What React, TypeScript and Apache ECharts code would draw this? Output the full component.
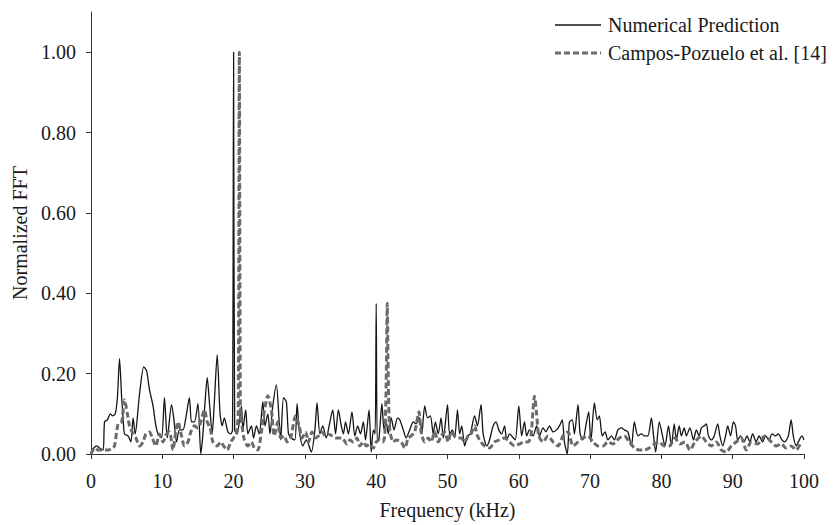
import React, { useEffect, useRef } from "react";
import * as echarts from "echarts";

const numFreq = [0, 0.4, 0.8, 1.2, 1.7, 1.9, 2.3, 2.7, 3.0, 3.4, 3.7, 4.0, 4.3, 4.5, 4.7, 5.2, 5.6, 5.9, 6.2, 6.8, 7.4, 7.8, 8.2, 8.7, 9.1, 9.4, 9.9, 10.3, 10.7, 11.3, 11.6, 12.0, 12.4, 12.9, 13.3, 13.8, 14.1, 14.5, 15.0, 15.4, 15.7, 16.0, 16.3, 16.6, 17.0, 17.3, 17.7, 18.1, 18.4, 18.7, 19.2, 19.6, 19.85, 20.0, 20.15, 20.5, 21.1, 21.3, 21.7, 22.0, 22.5, 22.8, 23.2, 23.6, 24.1, 24.4, 24.8, 25.1, 25.5, 26.0, 26.4, 26.6, 27.0, 27.4, 27.7, 28.1, 28.6, 28.9, 29.2, 29.7, 30.2, 30.9, 31.4, 31.7, 32.1, 32.5, 33.0, 33.4, 33.9, 34.3, 34.7, 35.1, 35.4, 35.7, 36.1, 36.6, 37.0, 37.4, 37.8, 38.2, 38.5, 39.0, 39.3, 39.6, 39.85, 40.0, 40.15, 40.4, 40.8, 41.1, 41.4, 41.7, 42.1, 42.5, 43.0, 43.3, 43.8, 44.2, 44.7, 45.2, 45.6, 46.1, 46.4, 46.8, 47.2, 47.6, 48.0, 48.3, 48.7, 49.1, 49.4, 49.6, 50.0, 50.3, 50.7, 51.0, 51.4, 51.7, 52.0, 52.4, 52.8, 53.2, 53.8, 54.2, 54.7, 55.0, 55.5, 55.9, 56.4, 56.8, 57.2, 57.6, 58.0, 58.3, 58.7, 59.0, 59.5, 60.0, 60.4, 60.8, 61.1, 61.5, 62.0, 62.5, 62.9, 63.4, 63.8, 64.3, 64.8, 65.3, 65.7, 66.1, 66.4, 66.8, 67.1, 67.5, 67.8, 68.3, 68.6, 69.0, 69.4, 69.8, 70.1, 70.6, 71.0, 71.3, 71.7, 72.1, 72.5, 73.0, 73.4, 73.9, 74.4, 74.8, 75.3, 75.8, 76.2, 76.7, 77.2, 77.6, 78.1, 78.6, 78.9, 79.2, 79.7, 80.1, 80.5, 81.0, 81.4, 81.8, 82.1, 82.5, 82.8, 83.2, 83.5, 84.0, 84.5, 84.9, 85.3, 85.6, 86.0, 86.3, 86.6, 87.0, 87.4, 87.9, 88.2, 88.6, 89.0, 89.3, 89.7, 90.1, 90.4, 90.7, 91.1, 91.6, 92.0, 92.4, 92.8, 93.3, 93.7, 94.2, 94.6, 95.1, 95.5, 96.0, 96.4, 96.9, 97.3, 97.8, 98.2, 98.5, 98.9, 99.2, 99.7, 100];
const numValue = [0.005, 0.015, 0.02, 0.015, 0.01, 0.08, 0.085, 0.10, 0.095, 0.10, 0.14, 0.237, 0.14, 0.09, 0.05, 0.045, 0.03, 0.09, 0.05, 0.148, 0.217, 0.207, 0.16, 0.12, 0.07, 0.05, 0.04, 0.14, 0.04, 0.123, 0.09, 0.03, 0.06, 0.06, 0.09, 0.14, 0.08, 0.08, 0.125, 0.0, 0.05, 0.13, 0.19, 0.13, 0.05, 0.13, 0.247, 0.10, 0.07, 0.09, 0.055, 0.05, 0.06, 1.0, 0.06, 0.05, 0.12, 0.06, 0.11, 0.05, 0.07, 0.04, 0.07, 0.05, 0.13, 0.07, 0.10, 0.05, 0.12, 0.172, 0.08, 0.035, 0.14, 0.13, 0.05, 0.04, 0.035, 0.125, 0.06, 0.02, 0.035, 0.005, 0.06, 0.127, 0.05, 0.07, 0.04, 0.07, 0.11, 0.05, 0.11, 0.07, 0.05, 0.08, 0.05, 0.105, 0.045, 0.07, 0.05, 0.08, 0.035, 0.11, 0.005, 0.06, 0.05, 0.375, 0.03, 0.04, 0.125, 0.06, 0.08, 0.05, 0.09, 0.06, 0.09, 0.085, 0.06, 0.04, 0.06, 0.08, 0.075, 0.09, 0.05, 0.12, 0.09, 0.095, 0.05, 0.08, 0.05, 0.09, 0.04, 0.06, 0.123, 0.05, 0.06, 0.04, 0.11, 0.05, 0.07, 0.02, 0.045, 0.05, 0.095, 0.07, 0.123, 0.05, 0.02, 0.035, 0.07, 0.08, 0.06, 0.05, 0.07, 0.035, 0.05, 0.045, 0.035, 0.12, 0.045, 0.08, 0.045, 0.06, 0.045, 0.07, 0.045, 0.065, 0.055, 0.07, 0.055, 0.06, 0.07, 0.085, 0.03, 0.0, 0.08, 0.085, 0.05, 0.123, 0.05, 0.035, 0.07, 0.105, 0.03, 0.127, 0.085, 0.095, 0.045, 0.055, 0.035, 0.045, 0.035, 0.06, 0.065, 0.06, 0.055, 0.02, 0.08, 0.045, 0.05, 0.045, 0.045, 0.09, 0.045, 0.005, 0.08, 0.05, 0.02, 0.07, 0.02, 0.075, 0.035, 0.07, 0.045, 0.065, 0.045, 0.065, 0.035, 0.06, 0.045, 0.065, 0.07, 0.075, 0.045, 0.035, 0.045, 0.075, 0.045, 0.02, 0.045, 0.07, 0.045, 0.08, 0.07, 0.035, 0.045, 0.03, 0.045, 0.03, 0.05, 0.03, 0.045, 0.03, 0.045, 0.035, 0.05, 0.045, 0.05, 0.035, 0.03, 0.045, 0.085, 0.045, 0.02, 0.03, 0.045, 0.035];

const refFreq = [0, 0.5, 1.0, 1.5, 2.0, 2.5, 3.0, 3.3, 3.8, 4.3, 4.7, 5.1, 5.4, 5.9, 6.3, 6.8, 7.3, 7.7, 8.2, 8.6, 9.1, 9.6, 10.1, 10.6, 11.0, 11.5, 11.8, 12.2, 12.7, 13.1, 13.6, 14.0, 14.5, 15.0, 15.4, 15.9, 16.3, 16.7, 17.1, 17.7, 18.2, 18.6, 19.1, 19.6, 20.0, 20.4, 20.65, 20.8, 20.95, 21.1, 21.5, 22.0, 22.5, 22.9, 23.4, 23.9, 24.3, 24.8, 25.3, 25.7, 26.2, 26.6, 27.1, 27.5, 28.0, 28.7, 29.2, 29.6, 30.1, 30.5, 31.0, 31.5, 31.9, 32.4, 32.9, 33.3, 33.8, 34.3, 34.7, 35.2, 35.9, 36.3, 36.8, 37.3, 37.7, 38.2, 38.6, 39.1, 39.6, 40.0, 40.5, 40.9, 41.2, 41.4, 41.55, 41.7, 41.9, 42.4, 42.8, 43.5, 44.0, 44.5, 44.9, 45.4, 46.0, 46.3, 46.8, 47.3, 47.7, 48.2, 48.7, 49.1, 49.6, 50.1, 50.5, 51.0, 51.5, 51.9, 52.4, 52.9, 53.3, 53.8, 54.2, 54.7, 55.2, 55.9, 56.6, 57.3, 58.0, 58.7, 59.4, 60.1, 60.8, 61.3, 61.7, 62.2, 62.5, 62.8, 63.4, 64.1, 64.8, 65.5, 66.2, 66.9, 67.6, 68.3, 69.0, 69.7, 70.4, 71.1, 71.8, 72.5, 73.2, 74.1, 74.8, 75.5, 76.2, 76.9, 77.6, 78.3, 79.0, 79.7, 80.4, 81.1, 81.9, 82.6, 83.3, 84.0, 84.7, 85.6, 86.3, 87.0, 87.7, 88.4, 89.1, 89.8, 90.5, 91.2, 91.9, 92.6, 93.5, 94.5, 95.4, 96.1, 96.8, 97.5, 98.2, 98.9, 99.6];
const refValue = [0.0, 0.015, 0.01, 0.01, 0.01, 0.01, 0.015, 0.02, 0.075, 0.08, 0.135, 0.10, 0.07, 0.05, 0.04, 0.02, 0.03, 0.05, 0.055, 0.04, 0.02, 0.05, 0.03, 0.05, 0.055, 0.01, 0.045, 0.08, 0.045, 0.02, 0.03, 0.055, 0.07, 0.065, 0.08, 0.11, 0.08, 0.065, 0.03, 0.02, 0.03, 0.02, 0.01, 0.03, 0.04, 0.05, 0.1, 1.0, 0.1, 0.08, 0.035, 0.02, 0.03, 0.015, 0.01, 0.055, 0.105, 0.145, 0.11, 0.045, 0.08, 0.04, 0.045, 0.03, 0.04, 0.095, 0.07, 0.04, 0.055, 0.03, 0.055, 0.04, 0.045, 0.055, 0.045, 0.05, 0.045, 0.04, 0.04, 0.04, 0.025, 0.035, 0.03, 0.04, 0.02, 0.03, 0.02, 0.025, 0.015, 0.03, 0.035, 0.03, 0.045, 0.18, 0.375, 0.18, 0.06, 0.03, 0.035, 0.03, 0.015, 0.04, 0.045, 0.055, 0.105, 0.055, 0.03, 0.04, 0.03, 0.055, 0.03, 0.045, 0.055, 0.03, 0.055, 0.045, 0.04, 0.04, 0.03, 0.045, 0.05, 0.07, 0.045, 0.03, 0.02, 0.015, 0.03, 0.035, 0.04, 0.03, 0.02, 0.025, 0.03, 0.03, 0.045, 0.144, 0.1, 0.045, 0.03, 0.045, 0.03, 0.02, 0.045, 0.055, 0.02, 0.03, 0.04, 0.045, 0.03, 0.02, 0.02, 0.03, 0.025, 0.04, 0.045, 0.03, 0.015, 0.01, 0.01, 0.015, 0.025, 0.03, 0.02, 0.02, 0.04, 0.025, 0.03, 0.01, 0.03, 0.045, 0.03, 0.02, 0.03, 0.01, 0.005, 0.02, 0.03, 0.04, 0.01, 0.03, 0.025, 0.045, 0.03, 0.02, 0.025, 0.015, 0.02, 0.01, 0.03];

const yTicks = [0, 0.2, 0.4, 0.6, 0.8, 1.0];
const seriesNames = ["Numerical Prediction", "Campos-Pozuelo et al. [14]"];

const FONT = "Liberation Serif";
const TEXT = "#1a1a1a";
const AXIS = "#333333";
const NUM_COLOR = "#151515";
const REF_COLOR = "#6b6b6b";

export default function App() {
  const ref = useRef<HTMLDivElement>(null);
  useEffect(() => {
    if (!ref.current) return;
    const chart = echarts.init(ref.current, null, { renderer: "svg" });
    const numData = numFreq.map((f, i) => [f, numValue[i]]);
    const refData = refFreq.map((f, i) => [f, refValue[i]]);
    chart.setOption({
      animation: false,
      backgroundColor: "#ffffff",
      textStyle: { fontFamily: FONT },
      grid: { left: 91, right: 34, top: 12, bottom: 65 },
      graphic: [
        {
          type: "line",
          shape: { x1: 555, y1: 25, x2: 601, y2: 25 },
          style: { stroke: NUM_COLOR, lineWidth: 1.3 },
        },
        {
          type: "text",
          x: 608,
          y: 25,
          style: {
            text: seriesNames[0],
            fontFamily: FONT,
            fontSize: 20,
            fill: TEXT,
            verticalAlign: "middle",
            align: "left",
          },
        },
        {
          type: "line",
          shape: { x1: 555, y1: 53, x2: 601, y2: 53 },
          style: { stroke: REF_COLOR, lineWidth: 3, lineDash: [6, 3] },
        },
        {
          type: "text",
          x: 608,
          y: 53,
          style: {
            text: seriesNames[1],
            fontFamily: FONT,
            fontSize: 20,
            fill: TEXT,
            verticalAlign: "middle",
            align: "left",
          },
        },
      ],
      xAxis: {
        type: "value",
        min: 0,
        max: 100,
        interval: 10,
        name: "Frequency (kHz)",
        nameLocation: "middle",
        nameGap: 46,
        nameTextStyle: { fontFamily: FONT, fontSize: 20, color: TEXT },
        axisLine: { lineStyle: { color: AXIS, width: 1 } },
        axisTick: { show: true, length: 5, lineStyle: { color: AXIS } },
        axisLabel: { fontFamily: FONT, fontSize: 20, color: TEXT, margin: 17 },
        splitLine: { show: false },
      },
      yAxis: {
        type: "value",
        min: 0,
        max: 1.1,
        interval: 0.2,
        name: "Normalized FFT",
        nameLocation: "middle",
        nameRotate: 90,
        nameGap: 60,
        nameTextStyle: { fontFamily: FONT, fontSize: 20, color: TEXT },
        axisLine: { show: true, lineStyle: { color: AXIS, width: 1 } },
        axisTick: { show: true, length: 5, lineStyle: { color: AXIS }, customValues: yTicks },
        axisLabel: {
          fontFamily: FONT,
          fontSize: 20,
          color: TEXT,
          margin: 15,
          customValues: yTicks,
          formatter: (v: number) => (v > 1.05 ? "" : v.toFixed(2)),
        },
        splitLine: { show: false },
      },
      series: [
        {
          name: seriesNames[0],
          type: "line",
          data: numData,
          symbol: "none",
          showSymbol: false,
          smooth: 0.25,
          lineStyle: { color: NUM_COLOR, width: 1.3 },
          itemStyle: { color: NUM_COLOR },
          z: 2,
        },
        {
          name: seriesNames[1],
          type: "line",
          data: refData,
          symbol: "none",
          showSymbol: false,
          smooth: 0.25,
          lineStyle: { color: REF_COLOR, width: 3, type: [6, 3] },
          itemStyle: { color: REF_COLOR },
          z: 3,
        },
      ],
    });
    return () => chart.dispose();
  }, []);
  return (
    <div
      ref={ref}
      style={{ position: "fixed", left: 0, top: 0, width: 838, height: 525, background: "#fff" }}
    />
  );
}
